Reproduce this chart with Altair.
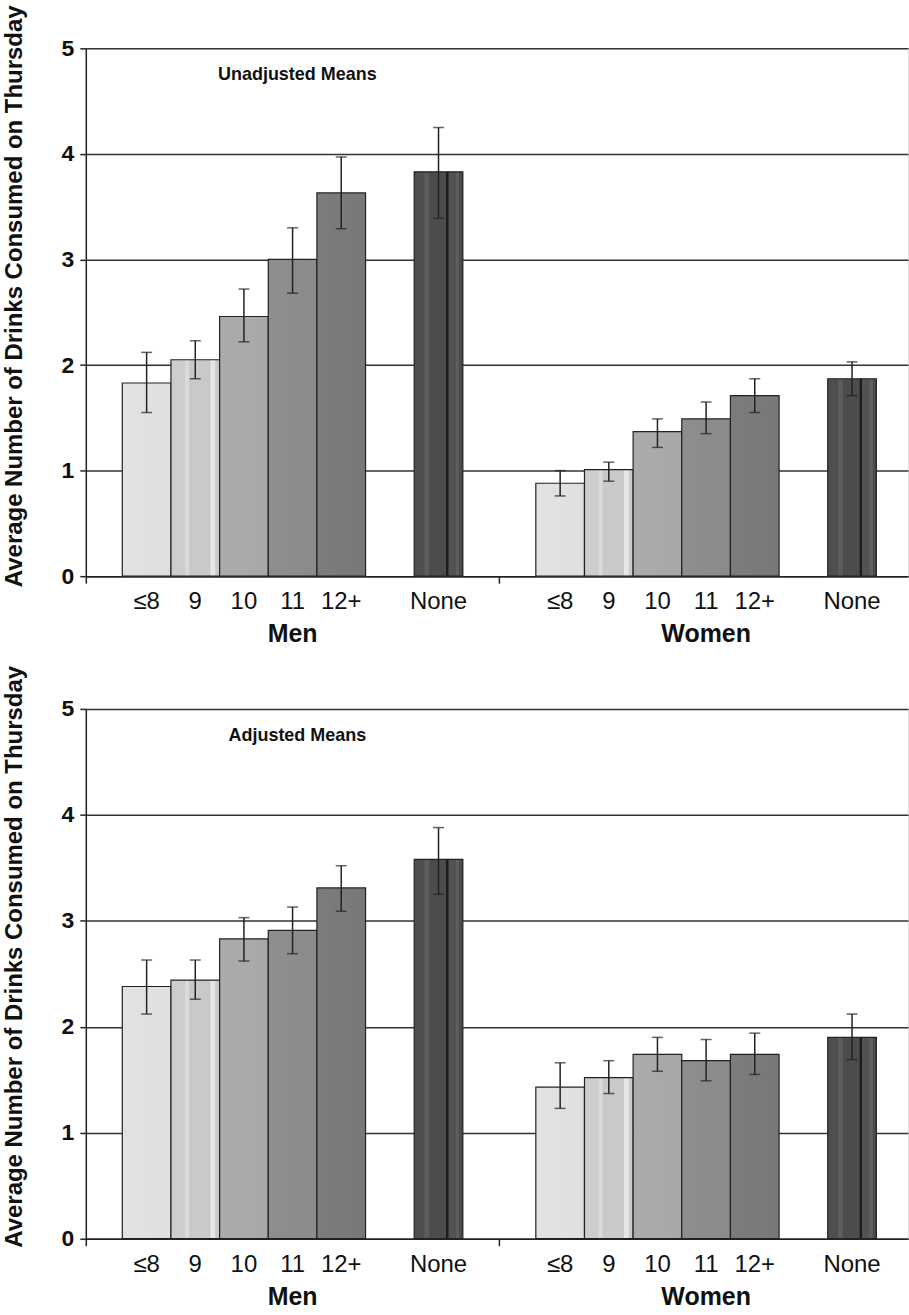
import altair as alt
import pandas as pd

# Bedtime categories (hour) and the two sex groups
categories = ["≤8", "9", "10", "11", "12+", "None"]
groups = ["Men", "Women"]

# Unadjusted means with error-bar bounds
unadj_men = [1.83, 2.05, 2.46, 3.00, 3.63, 3.83]
unadj_men_lo = [1.55, 1.87, 2.22, 2.68, 3.29, 3.39]
unadj_men_hi = [2.12, 2.23, 2.72, 3.30, 3.97, 4.25]
unadj_women = [0.88, 1.01, 1.37, 1.49, 1.71, 1.87]
unadj_women_lo = [0.76, 0.90, 1.22, 1.35, 1.55, 1.71]
unadj_women_hi = [1.00, 1.08, 1.49, 1.65, 1.87, 2.03]

# Adjusted means with error-bar bounds
adj_men = [2.38, 2.44, 2.83, 2.91, 3.31, 3.58]
adj_men_lo = [2.12, 2.26, 2.62, 2.69, 3.09, 3.25]
adj_men_hi = [2.63, 2.63, 3.03, 3.13, 3.52, 3.88]
adj_women = [1.43, 1.52, 1.74, 1.68, 1.74, 1.90]
adj_women_lo = [1.23, 1.37, 1.58, 1.49, 1.55, 1.69]
adj_women_hi = [1.66, 1.68, 1.90, 1.88, 1.94, 2.12]

y_ticks = [0, 1, 2, 3, 4, 5]

FONT = "Liberation Sans"
INK = "#222222"
PLOT_W = 824
SLOT_PAD = 0.75          # empty space at each side of a group, in bar widths
GROUP_SLOTS = 8.5        # width of one group, in bar widths
X_MAX = 16.9
Y_TITLE = "Average Number of Drinks Consumed on Thursday"


def stripes(stops):
    """Horizontal linear gradient with hard colour steps, used as a bar texture."""
    return alt.Gradient(gradient="linear", x1=0, x2=1, y1=0, y2=0,
                        stops=[alt.GradientStop(color=c, offset=o) for o, c in stops])


# fill texture for each category
fills = {
    "≤8": stripes([(0, "#e2e2e2"), (1, "#e0e0e0")]),
    "9": stripes([(0, "#cdcdcd"), (0.28, "#cdcdcd"), (0.30, "#dadada"), (0.36, "#dadada"),
                  (0.38, "#c9c9c9"), (0.80, "#c9c9c9"), (0.82, "#e6e6e6"), (0.90, "#e6e6e6"),
                  (0.92, "#cbcbcb"), (1, "#cbcbcb")]),
    "10": stripes([(0, "#ababab"), (1, "#a8a8a8")]),
    "11": stripes([(0, "#8e8e8e"), (1, "#8b8b8b")]),
    "12+": stripes([(0, "#7c7c7c"), (1, "#787878")]),
    "None": stripes([(0, "#4e4e4e"), (0.20, "#4e4e4e"), (0.22, "#5c5c5c"), (0.30, "#5c5c5c"),
                     (0.32, "#4c4c4c"), (0.65, "#4c4c4c"), (0.66, "#1c1c1c"), (0.70, "#1c1c1c"),
                     (0.71, "#525252"), (0.85, "#525252"), (0.86, "#5e5e5e"), (0.92, "#5e5e5e"),
                     (0.93, "#4a4a4a"), (1, "#4a4a4a")]),
}


def slot_center(gi, ci):
    gap = 1 if categories[ci] == "None" else 0
    return gi * GROUP_SLOTS + SLOT_PAD + ci + gap + 0.5


def make_axes():
    x_axis = alt.Axis(values=[0, GROUP_SLOTS, 2 * GROUP_SLOTS], labels=False, title=None,
                      grid=False, ticks=True, tickSize=7, tickColor=INK, tickWidth=1.5,
                      domainColor=INK, domainWidth=1.5)
    y_axis = alt.Axis(values=y_ticks, format="d", grid=True, gridColor="#333333", gridWidth=1.5,
                      domainColor=INK, domainWidth=1.5, tickColor=INK, tickWidth=1.5, tickSize=6,
                      labelFont=FONT, labelFontSize=23, labelFontWeight="bold", labelColor="#111",
                      labelPadding=6, title=Y_TITLE,
                      titleFont=FONT, titleFontSize=24, titleFontWeight="bold", titleColor="#111",
                      titleBaseline="middle", titleX=-71, titleY=248)
    return x_axis, y_axis


def panel(title, series, height):
    rows = []
    for gi, (vals, lo, hi) in enumerate(series):
        for ci, cat in enumerate(categories):
            c = slot_center(gi, ci)
            rows.append(dict(group=groups[gi], cat=cat, xc=c, x0=c - 0.5, x1=c + 0.5,
                             mean=vals[ci], lo=lo[ci], hi=hi[ci]))
    df = pd.DataFrame(rows)
    gdf = pd.DataFrame({"group": groups,
                        "xc": [gi * GROUP_SLOTS + GROUP_SLOTS / 2 for gi in range(len(groups))]})

    xs = alt.Scale(domain=[0, X_MAX], nice=False, zero=False, padding=0)
    ys = alt.Scale(domain=[0, 5], nice=False, padding=0)
    x_axis, y_axis = make_axes()

    base = alt.Chart(df)
    bar_layers = []
    for cat in categories:
        bar_layers.append(
            base.transform_filter(alt.datum.cat == cat)
            .mark_bar(stroke=INK, strokeWidth=1.2, fill=fills[cat])
            .encode(
                x=alt.X("x0:Q", scale=xs, axis=x_axis, title=None),
                x2="x1:Q",
                y=alt.Y("mean:Q", scale=ys, axis=y_axis, title=Y_TITLE),
                y2=alt.datum(0),
            )
        )
    whisk = base.mark_rule(color=INK, strokeWidth=1.5).encode(
        x=alt.X("xc:Q", scale=xs, axis=x_axis, title=None),
        y=alt.Y("lo:Q", scale=ys, axis=y_axis, title=Y_TITLE), y2="hi:Q")
    caps = base.transform_fold(["lo", "hi"], as_=["end", "v"]).mark_tick(
        orient="horizontal", size=11, thickness=1.5, color=INK).encode(
        x=alt.X("xc:Q", scale=xs, axis=x_axis, title=None),
        y=alt.Y("v:Q", scale=ys, axis=y_axis, title=Y_TITLE))
    cat_labels = base.mark_text(font=FONT, fontSize=24, color="#111", baseline="middle").encode(
        x=alt.X("xc:Q", scale=xs, axis=x_axis, title=None), y=alt.value(height + 26), text="cat:N")
    grp_labels = alt.Chart(gdf).mark_text(font=FONT, fontSize=25, fontWeight="bold",
                                          color="#111", baseline="middle").encode(
        x=alt.X("xc:Q", scale=xs, axis=x_axis, title=None), y=alt.value(height + 58),
        text="group:N")
    head = alt.Chart(pd.DataFrame({"t": [title]})).mark_text(
        font=FONT, fontSize=18, fontWeight="bold", color="#111", baseline="middle").encode(
        x=alt.value(212), y=alt.value(27), text="t:N")

    return alt.layer(*bar_layers, whisk, caps, cat_labels, grp_labels, head).properties(
        width=PLOT_W, height=height)


top = panel("Unadjusted Means",
            [(unadj_men, unadj_men_lo, unadj_men_hi),
             (unadj_women, unadj_women_lo, unadj_women_hi)], 529)
bottom = panel("Adjusted Means",
               [(adj_men, adj_men_lo, adj_men_hi),
                (adj_women, adj_women_lo, adj_women_hi)], 531)

chart = alt.vconcat(top, bottom, spacing=133, bounds="flush").properties(
    padding={"left": 2, "top": 2, "right": 0, "bottom": 0}
).configure_view(strokeWidth=0, strokeOpacity=0).configure(background="white")

chart.save("out.html", embed_options={"renderer": "svg", "actions": False})
